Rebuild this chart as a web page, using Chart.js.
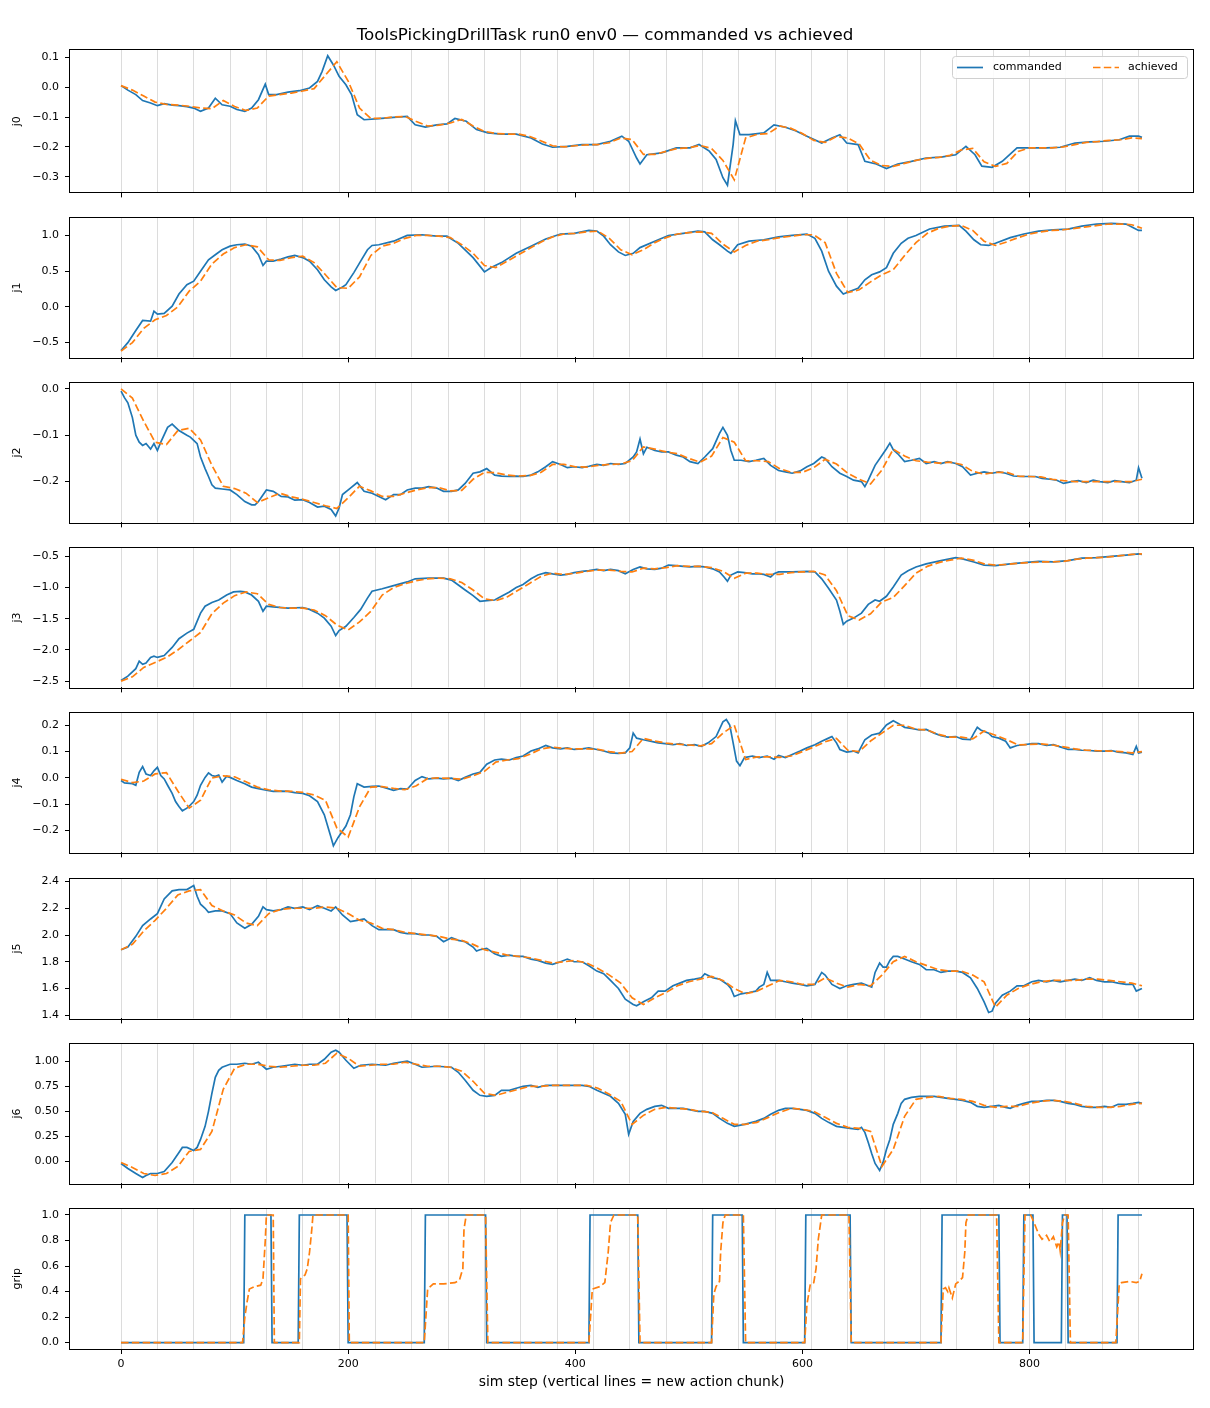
<!DOCTYPE html>
<html>
<head>
<meta charset="utf-8">
<script src="https://cdn.jsdelivr.net/npm/chart.js@4.4.1/dist/chart.umd.min.js"></script>
<style>
html, body { margin: 0; padding: 0; background: #fff; }
#fig { position: relative; width: 1210px; height: 1408px; }
#fig canvas { position: absolute; left: 0; }
</style>
</head>
<body>
<div id="fig"></div>
<script>
// --- DATA ---
const figTitle = 'ToolsPickingDrillTask run0 env0 \u2014 commanded vs achieved';
const xTitle = 'sim step (vertical lines = new action chunk)';
const xTicks = [0, 200, 400, 600, 800];
const xTickLabels = ['0', '200', '400', '600', '800'];
const chunkSteps = [0,32,64,96,128,160,192,224,256,288,320,352,384,416,448,480,512,544,576,608,640,672,704,736,768,800,832,864,896];
const achSteps = [0,10,20,30,40,50,60,70,80,90,100,110,120,130,140,150,160,170,180,190,200,210,220,230,240,250,260,270,280,290,300,310,320,330,340,350,360,370,380,390,400,410,420,430,440,450,460,470,480,490,500,510,520,530,540,550,560,570,580,590,600,610,620,630,640,650,660,670,680,690,700,710,720,730,740,750,760,770,780,790,800,810,820,830,840,850,860,870,880,890,899];

// commanded: [step, value]
const j0Cmd = [[0,0.005],[6,-0.01],[13,-0.025],[19,-0.045],[26,-0.053],[32,-0.062],[38,-0.055],[45,-0.06],[51,-0.062],[58,-0.065],[64,-0.07],[70,-0.081],[77,-0.07],[83,-0.037],[89,-0.059],[96,-0.064],[102,-0.075],[109,-0.081],[115,-0.07],[121,-0.042],[127,0.01],[130,-0.025],[137,-0.025],[147,-0.017],[157,-0.012],[166,-0.003],[173,0.019],[177,0.052],[182,0.105],[187,0.074],[192,0.036],[198,0.008],[203,-0.025],[208,-0.092],[214,-0.109],[227,-0.105],[240,-0.101],[252,-0.098],[259,-0.126],[268,-0.134],[278,-0.126],[287,-0.123],[294,-0.105],[304,-0.114],[313,-0.142],[323,-0.153],[335,-0.157],[348,-0.157],[361,-0.17],[371,-0.19],[380,-0.201],[393,-0.198],[406,-0.192],[419,-0.192],[431,-0.181],[441,-0.164],[447,-0.181],[454,-0.237],[457,-0.257],[463,-0.226],[476,-0.22],[489,-0.203],[501,-0.203],[509,-0.192],[518,-0.214],[524,-0.242],[530,-0.303],[534,-0.328],[539,-0.192],[541,-0.112],[545,-0.159],[553,-0.159],[566,-0.153],[575,-0.126],[585,-0.134],[594,-0.146],[604,-0.164],[617,-0.187],[626,-0.17],[633,-0.159],[639,-0.187],[649,-0.192],[655,-0.248],[665,-0.257],[674,-0.272],[684,-0.257],[696,-0.248],[709,-0.237],[722,-0.234],[735,-0.226],[744,-0.198],[752,-0.226],[758,-0.264],[767,-0.268],[776,-0.248],[789,-0.203],[802,-0.203],[815,-0.203],[827,-0.201],[840,-0.187],[853,-0.183],[866,-0.181],[879,-0.176],[888,-0.164],[896,-0.164],[899,-0.168]];
const j1Cmd = [[0,-0.61],[6,-0.50],[13,-0.33],[19,-0.19],[26,-0.20],[29,-0.06],[32,-0.10],[38,-0.09],[45,0.01],[51,0.18],[58,0.31],[64,0.36],[70,0.50],[77,0.66],[83,0.73],[89,0.80],[96,0.85],[102,0.87],[109,0.88],[115,0.85],[121,0.73],[125,0.58],[128,0.64],[134,0.64],[141,0.67],[147,0.70],[153,0.72],[160,0.69],[166,0.64],[173,0.52],[179,0.38],[185,0.28],[189,0.23],[195,0.28],[198,0.31],[205,0.48],[211,0.64],[217,0.80],[221,0.86],[227,0.87],[240,0.92],[252,1.00],[265,1.01],[278,0.99],[287,0.99],[297,0.89],[310,0.69],[320,0.49],[326,0.55],[335,0.62],[348,0.75],[361,0.85],[374,0.95],[387,1.02],[399,1.03],[412,1.07],[419,1.06],[425,0.99],[431,0.87],[438,0.77],[444,0.72],[451,0.75],[457,0.83],[470,0.92],[482,1.00],[495,1.03],[508,1.06],[514,1.05],[521,0.94],[527,0.87],[534,0.78],[537,0.75],[543,0.87],[553,0.92],[566,0.94],[579,0.98],[591,1.00],[604,1.02],[611,0.96],[617,0.78],[623,0.50],[630,0.29],[636,0.18],[642,0.22],[649,0.26],[655,0.38],[661,0.45],[668,0.49],[674,0.55],[680,0.75],[687,0.89],[693,0.96],[700,1.00],[712,1.09],[725,1.13],[738,1.14],[744,1.06],[751,0.94],[757,0.87],[764,0.86],[770,0.89],[783,0.97],[795,1.02],[808,1.06],[821,1.08],[834,1.09],[846,1.13],[859,1.16],[872,1.17],[885,1.16],[891,1.11],[896,1.07],[899,1.07]];
const j2Cmd = [[0,-0.005],[3,-0.019],[6,-0.03],[10,-0.062],[13,-0.10],[16,-0.115],[19,-0.122],[22,-0.118],[26,-0.13],[29,-0.118],[32,-0.133],[35,-0.115],[41,-0.083],[45,-0.076],[48,-0.083],[51,-0.09],[58,-0.10],[61,-0.104],[64,-0.111],[67,-0.118],[70,-0.147],[74,-0.172],[77,-0.189],[80,-0.207],[83,-0.214],[89,-0.216],[96,-0.218],[102,-0.228],[109,-0.243],[115,-0.25],[118,-0.25],[121,-0.243],[128,-0.218],[134,-0.221],[141,-0.232],[147,-0.233],[153,-0.24],[160,-0.239],[166,-0.245],[173,-0.255],[179,-0.253],[185,-0.26],[189,-0.274],[192,-0.257],[195,-0.228],[202,-0.214],[208,-0.202],[214,-0.221],[221,-0.225],[227,-0.232],[233,-0.239],[240,-0.228],[246,-0.228],[252,-0.218],[259,-0.214],[265,-0.214],[271,-0.211],[278,-0.214],[284,-0.221],[291,-0.221],[297,-0.218],[303,-0.204],[310,-0.182],[316,-0.179],[322,-0.172],[329,-0.186],[335,-0.188],[342,-0.189],[348,-0.188],[354,-0.189],[361,-0.186],[367,-0.179],[374,-0.168],[380,-0.157],[387,-0.163],[393,-0.17],[399,-0.168],[406,-0.17],[412,-0.167],[419,-0.163],[425,-0.165],[431,-0.161],[438,-0.163],[444,-0.161],[451,-0.147],[454,-0.136],[457,-0.108],[460,-0.14],[463,-0.126],[470,-0.133],[476,-0.136],[482,-0.136],[489,-0.143],[495,-0.147],[501,-0.157],[508,-0.161],[514,-0.147],[521,-0.129],[527,-0.096],[530,-0.083],[534,-0.10],[537,-0.133],[540,-0.154],[546,-0.154],[553,-0.157],[559,-0.154],[566,-0.15],[572,-0.165],[579,-0.176],[585,-0.179],[591,-0.182],[598,-0.177],[604,-0.168],[610,-0.161],[617,-0.147],[620,-0.15],[626,-0.168],[633,-0.182],[639,-0.189],[645,-0.197],[652,-0.2],[655,-0.211],[658,-0.197],[664,-0.165],[671,-0.14],[674,-0.129],[677,-0.117],[680,-0.131],[684,-0.14],[690,-0.157],[696,-0.154],[703,-0.15],[709,-0.161],[716,-0.157],[722,-0.161],[728,-0.157],[735,-0.161],[741,-0.168],[748,-0.186],[754,-0.182],[760,-0.179],[767,-0.182],[773,-0.179],[779,-0.182],[786,-0.188],[792,-0.189],[798,-0.189],[805,-0.189],[811,-0.193],[818,-0.195],[824,-0.197],[830,-0.204],[837,-0.2],[843,-0.198],[850,-0.202],[856,-0.197],[862,-0.2],[869,-0.202],[875,-0.198],[881,-0.2],[888,-0.202],[894,-0.197],[896,-0.17],[899,-0.193]];
const j3Cmd = [[0,-2.49],[6,-2.42],[13,-2.30],[16,-2.18],[19,-2.23],[22,-2.21],[26,-2.12],[29,-2.10],[32,-2.12],[38,-2.09],[45,-1.96],[51,-1.82],[58,-1.73],[64,-1.67],[70,-1.41],[74,-1.30],[80,-1.24],[86,-1.20],[93,-1.12],[99,-1.07],[105,-1.06],[109,-1.07],[115,-1.12],[121,-1.22],[125,-1.38],[128,-1.30],[134,-1.31],[147,-1.33],[160,-1.32],[166,-1.35],[173,-1.41],[179,-1.49],[185,-1.62],[189,-1.77],[192,-1.69],[198,-1.62],[205,-1.48],[211,-1.35],[217,-1.17],[221,-1.06],[230,-1.02],[240,-0.97],[252,-0.91],[259,-0.86],[271,-0.85],[284,-0.85],[291,-0.88],[297,-0.96],[303,-1.04],[310,-1.13],[316,-1.22],[322,-1.21],[329,-1.20],[335,-1.14],[342,-1.07],[348,-1.00],[354,-0.95],[361,-0.86],[367,-0.80],[374,-0.76],[380,-0.78],[387,-0.80],[393,-0.79],[399,-0.76],[406,-0.74],[412,-0.73],[419,-0.71],[425,-0.73],[431,-0.71],[438,-0.73],[444,-0.78],[451,-0.71],[457,-0.67],[463,-0.70],[470,-0.71],[476,-0.69],[482,-0.64],[489,-0.65],[495,-0.66],[501,-0.67],[508,-0.66],[514,-0.67],[521,-0.70],[527,-0.75],[531,-0.83],[534,-0.90],[537,-0.80],[543,-0.75],[549,-0.76],[556,-0.78],[562,-0.78],[566,-0.79],[572,-0.83],[575,-0.78],[579,-0.75],[591,-0.75],[604,-0.74],[611,-0.75],[617,-0.86],[623,-1.01],[630,-1.20],[633,-1.38],[636,-1.59],[639,-1.54],[645,-1.49],[652,-1.41],[658,-1.27],[664,-1.20],[668,-1.22],[674,-1.14],[680,-0.99],[687,-0.80],[693,-0.73],[700,-0.67],[709,-0.62],[722,-0.57],[735,-0.52],[741,-0.54],[751,-0.59],[760,-0.64],[770,-0.65],[783,-0.62],[795,-0.60],[808,-0.58],[821,-0.59],[834,-0.57],[846,-0.53],[859,-0.52],[872,-0.50],[885,-0.48],[896,-0.46],[899,-0.47]];
const j4Cmd = [[0,-0.01],[3,-0.019],[10,-0.022],[13,-0.028],[16,0.021],[19,0.043],[22,0.015],[26,0.009],[29,0.027],[32,0.04],[35,0.009],[38,-0.004],[41,-0.028],[45,-0.059],[48,-0.09],[51,-0.109],[54,-0.125],[58,-0.115],[61,-0.103],[64,-0.09],[67,-0.066],[70,-0.028],[74,0.002],[77,0.019],[80,0.009],[83,0.006],[86,0.011],[89,-0.016],[93,0.006],[96,0.002],[102,-0.01],[109,-0.022],[115,-0.035],[121,-0.041],[128,-0.047],[134,-0.051],[141,-0.05],[147,-0.051],[153,-0.056],[160,-0.059],[166,-0.068],[173,-0.09],[179,-0.14],[185,-0.227],[187,-0.258],[191,-0.227],[195,-0.202],[198,-0.183],[202,-0.14],[205,-0.072],[208,-0.022],[214,-0.035],[221,-0.032],[227,-0.031],[233,-0.038],[240,-0.047],[246,-0.041],[252,-0.043],[259,-0.01],[265,0.005],[271,-0.004],[278,-0.001],[284,-0.004],[291,-0.001],[297,-0.01],[303,0.002],[310,0.015],[316,0.021],[322,0.052],[329,0.068],[335,0.071],[342,0.068],[348,0.077],[354,0.083],[361,0.102],[367,0.11],[374,0.123],[380,0.114],[387,0.11],[393,0.114],[399,0.108],[406,0.11],[412,0.114],[419,0.108],[425,0.102],[431,0.095],[438,0.093],[444,0.095],[448,0.114],[451,0.17],[454,0.151],[460,0.145],[467,0.139],[473,0.133],[479,0.13],[486,0.126],[492,0.13],[498,0.123],[505,0.126],[511,0.12],[517,0.133],[524,0.157],[530,0.213],[533,0.222],[536,0.201],[539,0.133],[542,0.064],[545,0.046],[549,0.077],[556,0.083],[562,0.077],[569,0.083],[575,0.071],[579,0.085],[585,0.077],[591,0.089],[598,0.102],[604,0.114],[611,0.126],[617,0.139],[623,0.151],[626,0.157],[630,0.133],[633,0.108],[639,0.098],[645,0.102],[649,0.095],[655,0.145],[661,0.163],[668,0.17],[674,0.201],[680,0.217],[684,0.208],[690,0.192],[696,0.188],[703,0.182],[709,0.184],[716,0.17],[722,0.16],[728,0.155],[735,0.157],[741,0.147],[748,0.145],[751,0.17],[754,0.192],[757,0.182],[764,0.17],[767,0.157],[773,0.151],[779,0.139],[783,0.114],[789,0.123],[795,0.126],[802,0.13],[808,0.13],[815,0.123],[821,0.126],[827,0.118],[834,0.108],[840,0.108],[846,0.105],[853,0.104],[859,0.102],[866,0.102],[872,0.104],[878,0.098],[885,0.095],[891,0.089],[894,0.12],[896,0.095],[899,0.098]];
const j5Cmd = [[0,1.89],[6,1.91],[13,1.99],[19,2.07],[26,2.12],[32,2.16],[38,2.27],[45,2.33],[51,2.34],[58,2.34],[64,2.37],[67,2.29],[70,2.23],[74,2.20],[77,2.17],[83,2.18],[89,2.18],[96,2.16],[102,2.09],[109,2.05],[115,2.08],[121,2.14],[125,2.21],[128,2.19],[134,2.18],[141,2.19],[147,2.21],[153,2.20],[160,2.21],[166,2.19],[173,2.22],[179,2.20],[185,2.18],[189,2.21],[195,2.15],[202,2.10],[208,2.11],[214,2.12],[221,2.07],[227,2.04],[233,2.04],[240,2.04],[246,2.02],[252,2.01],[259,2.01],[265,2.00],[271,2.00],[278,1.99],[284,1.95],[291,1.98],[297,1.96],[303,1.95],[310,1.91],[313,1.88],[316,1.89],[322,1.90],[329,1.86],[335,1.84],[342,1.85],[348,1.84],[354,1.84],[361,1.82],[367,1.81],[374,1.79],[380,1.78],[387,1.80],[393,1.82],[399,1.80],[406,1.80],[412,1.77],[419,1.73],[425,1.71],[431,1.66],[438,1.60],[444,1.52],[451,1.48],[454,1.47],[460,1.50],[467,1.53],[473,1.58],[479,1.58],[486,1.62],[492,1.64],[498,1.66],[505,1.67],[511,1.68],[514,1.71],[521,1.68],[527,1.67],[534,1.63],[537,1.60],[540,1.54],[546,1.56],[553,1.57],[559,1.58],[562,1.61],[566,1.63],[569,1.72],[572,1.66],[579,1.66],[585,1.65],[591,1.64],[598,1.63],[604,1.62],[611,1.63],[617,1.72],[620,1.70],[626,1.63],[633,1.60],[639,1.62],[645,1.63],[652,1.64],[658,1.62],[661,1.61],[664,1.72],[668,1.79],[671,1.76],[674,1.76],[677,1.81],[680,1.84],[684,1.84],[690,1.82],[696,1.80],[703,1.78],[709,1.74],[716,1.74],[722,1.72],[728,1.73],[735,1.73],[741,1.72],[748,1.68],[754,1.60],[760,1.50],[764,1.42],[767,1.43],[770,1.49],[776,1.55],[783,1.58],[789,1.62],[795,1.62],[802,1.65],[808,1.66],[815,1.65],[821,1.66],[827,1.65],[834,1.66],[840,1.67],[846,1.66],[853,1.68],[859,1.66],[866,1.65],[872,1.65],[878,1.64],[885,1.63],[891,1.63],[894,1.58],[899,1.60]];
const j6Cmd = [[0,-0.02],[6,-0.07],[13,-0.12],[19,-0.16],[22,-0.14],[26,-0.12],[32,-0.12],[38,-0.10],[45,-0.01],[51,0.09],[54,0.14],[58,0.14],[64,0.11],[67,0.14],[70,0.22],[74,0.35],[77,0.50],[80,0.68],[83,0.84],[86,0.91],[89,0.94],[96,0.97],[102,0.97],[109,0.98],[115,0.97],[121,0.99],[128,0.92],[134,0.94],[141,0.95],[147,0.96],[153,0.97],[160,0.96],[166,0.97],[173,0.97],[179,1.02],[185,1.09],[189,1.11],[192,1.09],[198,1.01],[205,0.93],[211,0.96],[221,0.97],[233,0.96],[240,0.98],[252,1.00],[259,0.97],[265,0.94],[278,0.95],[291,0.94],[297,0.89],[303,0.81],[310,0.71],[316,0.66],[322,0.65],[329,0.66],[335,0.71],[342,0.71],[348,0.73],[354,0.75],[361,0.76],[367,0.74],[374,0.76],[380,0.76],[393,0.76],[406,0.76],[412,0.75],[419,0.71],[425,0.68],[431,0.65],[438,0.58],[444,0.47],[447,0.27],[451,0.40],[457,0.48],[463,0.52],[470,0.55],[476,0.56],[482,0.53],[495,0.53],[508,0.50],[514,0.50],[521,0.48],[527,0.43],[534,0.38],[540,0.35],[549,0.37],[559,0.40],[566,0.43],[572,0.47],[579,0.51],[585,0.53],[591,0.53],[598,0.52],[604,0.51],[611,0.48],[617,0.43],[623,0.39],[630,0.35],[636,0.34],[642,0.33],[649,0.32],[652,0.34],[655,0.29],[658,0.19],[661,0.08],[664,-0.02],[668,-0.09],[671,-0.01],[674,0.12],[677,0.22],[680,0.37],[684,0.48],[687,0.58],[690,0.62],[696,0.64],[703,0.65],[709,0.65],[716,0.65],[722,0.64],[728,0.63],[735,0.62],[741,0.61],[748,0.59],[754,0.55],[760,0.54],[767,0.55],[773,0.56],[779,0.54],[783,0.53],[789,0.56],[795,0.58],[802,0.60],[808,0.60],[815,0.61],[821,0.61],[827,0.60],[834,0.58],[840,0.57],[846,0.55],[853,0.54],[859,0.54],[866,0.55],[872,0.54],[878,0.57],[885,0.57],[891,0.58],[896,0.59],[899,0.58]];
const gripCmd = [[0,0],[108,0],[109,1],[132,1],[133,0],[156,0],[157,1],[199,1],[200,0],[267,0],[268,1],[321,1],[322,0],[412,0],[413,1],[455,1],[456,0],[520,0],[521,1],[547,1],[548,0],[602,0],[603,1],[642,1],[643,0],[722,0],[723,1],[773,1],[774,0],[794,0],[795,1],[803,1],[804,0],[828,0],[829,1],[833,1],[834,0],[877,0],[878,1],[899,1]];

// achieved, sampled at achSteps
const j0Ach = [0.005,-0.01,-0.03,-0.05,-0.058,-0.06,-0.064,-0.07,-0.072,-0.045,
  -0.065,-0.078,-0.07,-0.03,-0.025,-0.02,-0.013,-0.005,0.04,0.085,
  0.02,-0.07,-0.105,-0.104,-0.1,-0.098,-0.115,-0.13,-0.127,-0.12,
  -0.108,-0.13,-0.148,-0.155,-0.157,-0.157,-0.165,-0.18,-0.196,-0.2,
  -0.196,-0.193,-0.192,-0.186,-0.17,-0.175,-0.225,-0.225,-0.215,-0.205,
  -0.203,-0.195,-0.205,-0.245,-0.31,-0.17,-0.158,-0.155,-0.13,-0.138,
  -0.155,-0.178,-0.185,-0.165,-0.17,-0.19,-0.245,-0.262,-0.265,-0.255,
  -0.245,-0.238,-0.235,-0.228,-0.21,-0.205,-0.25,-0.265,-0.255,-0.215,
  -0.203,-0.203,-0.203,-0.2,-0.192,-0.185,-0.182,-0.178,-0.176,-0.17,
  -0.172];
const j1Ach = [-0.62,-0.5,-0.3,-0.18,-0.12,0.0,0.22,0.36,0.6,0.74,
  0.83,0.87,0.84,0.66,0.65,0.69,0.71,0.62,0.45,0.27,
  0.26,0.42,0.72,0.85,0.89,0.96,1.0,1.0,0.99,0.97,
  0.87,0.75,0.58,0.55,0.64,0.73,0.82,0.91,0.98,1.02,
  1.03,1.05,1.06,0.96,0.8,0.73,0.8,0.9,0.97,1.02,
  1.04,1.05,1.03,0.88,0.77,0.86,0.92,0.94,0.97,0.99,
  1.01,1.01,0.9,0.47,0.2,0.24,0.35,0.45,0.52,0.72,
  0.9,1.03,1.1,1.13,1.14,1.07,0.92,0.86,0.91,0.97,
  1.02,1.05,1.07,1.08,1.1,1.12,1.14,1.16,1.16,1.15,
  1.1];
const j2Ach = [0.0,-0.02,-0.07,-0.115,-0.12,-0.09,-0.085,-0.11,-0.165,-0.21,
  -0.215,-0.225,-0.245,-0.235,-0.225,-0.233,-0.238,-0.245,-0.252,-0.258,
  -0.235,-0.21,-0.22,-0.232,-0.232,-0.225,-0.218,-0.213,-0.213,-0.22,
  -0.219,-0.195,-0.18,-0.181,-0.186,-0.188,-0.187,-0.18,-0.163,-0.163,
  -0.168,-0.169,-0.165,-0.163,-0.162,-0.155,-0.125,-0.13,-0.136,-0.14,
  -0.15,-0.158,-0.145,-0.105,-0.115,-0.155,-0.155,-0.157,-0.172,-0.18,
  -0.18,-0.17,-0.152,-0.162,-0.182,-0.195,-0.205,-0.175,-0.13,-0.145,
  -0.155,-0.158,-0.16,-0.158,-0.163,-0.178,-0.184,-0.18,-0.18,-0.188,
  -0.189,-0.19,-0.195,-0.198,-0.2,-0.2,-0.2,-0.2,-0.2,-0.2,
  -0.195];
const j3Ach = [-2.5,-2.43,-2.28,-2.2,-2.12,-2.0,-1.86,-1.72,-1.42,-1.25,
  -1.13,-1.07,-1.1,-1.27,-1.32,-1.33,-1.33,-1.36,-1.45,-1.6,
  -1.68,-1.55,-1.38,-1.12,-1.0,-0.94,-0.89,-0.86,-0.85,-0.86,
  -0.92,-1.04,-1.18,-1.21,-1.15,-1.04,-0.93,-0.82,-0.77,-0.79,
  -0.77,-0.74,-0.72,-0.72,-0.74,-0.75,-0.69,-0.7,-0.68,-0.65,
  -0.66,-0.66,-0.68,-0.74,-0.85,-0.77,-0.77,-0.79,-0.79,-0.76,
  -0.75,-0.74,-0.8,-1.05,-1.45,-1.52,-1.42,-1.23,-1.16,-0.97,
  -0.77,-0.66,-0.6,-0.56,-0.53,-0.56,-0.62,-0.64,-0.63,-0.61,
  -0.6,-0.59,-0.59,-0.58,-0.55,-0.53,-0.52,-0.51,-0.49,-0.47,
  -0.46];
const j4Ach = [-0.005,-0.018,-0.012,0.015,0.02,-0.05,-0.115,-0.085,0.0,0.008,
  0.004,-0.015,-0.035,-0.045,-0.05,-0.051,-0.055,-0.065,-0.085,-0.19,
  -0.225,-0.11,-0.035,-0.033,-0.04,-0.045,-0.03,-0.002,0.0,-0.002,
  -0.005,0.008,0.025,0.06,0.068,0.073,0.09,0.11,0.117,0.112,
  0.11,0.11,0.108,0.1,0.094,0.1,0.15,0.14,0.132,0.128,
  0.125,0.122,0.13,0.17,0.2,0.07,0.08,0.08,0.078,0.083,
  0.1,0.117,0.137,0.15,0.105,0.1,0.14,0.17,0.2,0.2,
  0.185,0.182,0.165,0.155,0.155,0.148,0.178,0.162,0.145,0.125,
  0.127,0.129,0.125,0.118,0.11,0.105,0.103,0.102,0.1,0.095,
  0.1];
const j5Ach = [1.89,1.93,2.03,2.11,2.2,2.3,2.33,2.34,2.22,2.18,
  2.15,2.09,2.07,2.16,2.19,2.2,2.2,2.2,2.21,2.2,
  2.16,2.11,2.09,2.05,2.04,2.02,2.01,2.0,1.99,1.97,
  1.96,1.93,1.89,1.87,1.85,1.84,1.83,1.81,1.79,1.8,
  1.81,1.79,1.75,1.7,1.64,1.53,1.48,1.53,1.57,1.62,
  1.65,1.67,1.69,1.66,1.6,1.56,1.58,1.62,1.66,1.65,
  1.63,1.63,1.68,1.64,1.61,1.63,1.62,1.7,1.8,1.84,
  1.8,1.77,1.74,1.73,1.73,1.7,1.65,1.46,1.55,1.6,
  1.63,1.65,1.66,1.66,1.66,1.67,1.67,1.66,1.65,1.64,
  1.62];
const j6Ach = [-0.01,-0.06,-0.12,-0.14,-0.12,-0.05,0.1,0.12,0.3,0.72,
  0.93,0.97,0.97,0.95,0.94,0.95,0.96,0.96,0.98,1.08,
  1.03,0.95,0.96,0.97,0.97,0.99,0.97,0.95,0.95,0.94,
  0.9,0.8,0.68,0.66,0.69,0.72,0.75,0.75,0.76,0.76,
  0.76,0.76,0.73,0.67,0.6,0.37,0.46,0.52,0.54,0.53,
  0.52,0.5,0.49,0.43,0.37,0.37,0.39,0.44,0.49,0.53,
  0.52,0.5,0.44,0.38,0.34,0.33,0.3,-0.05,0.12,0.45,
  0.62,0.64,0.65,0.63,0.62,0.6,0.56,0.54,0.55,0.55,
  0.58,0.6,0.61,0.6,0.58,0.55,0.54,0.54,0.55,0.57,
  0.58];
const gripAch = [[0,0],[107,0],[109,0.2],[111,0.32],[113,0.42],[118,0.44],[123,0.45],[125,0.5],[127,0.8],[128,1.0],[134,1.0],[135,0],[157,0],[158,0.5],[162,0.53],[164,0.58],[166,0.71],[168,0.89],[169,1.0],[200,1.0],[201,0],[267,0],[270,0.42],[275,0.46],[284,0.46],[294,0.47],[298,0.49],[301,0.58],[302,0.89],[304,1.0],[321,1.0],[323,0],[412,0],[415,0.42],[422,0.44],[426,0.47],[429,0.71],[431,0.94],[434,1.0],[455,1.0],[457,0],[520,0],[522,0.38],[524,0.44],[527,0.48],[528,0.71],[530,0.94],[532,1.0],[548,1.0],[550,0],[602,0],[604,0.30],[607,0.46],[610,0.47],[612,0.58],[614,0.81],[617,1.0],[641,1.0],[643,0],[722,0],[724,0.42],[726,0.43],[728,0.40],[729,0.43],[732,0.35],[735,0.46],[738,0.48],[741,0.51],[743,0.71],[744,0.94],[746,1.0],[771,1.0],[773,0],[794,0],[796,1.0],[801,1.0],[804,0.94],[808,0.85],[811,0.81],[815,0.84],[818,0.79],[821,0.83],[824,0.75],[826,0.79],[827,0.72],[829,0.94],[831,1.0],[834,1.0],[836,0],[876,0],[879,0.46],[881,0.47],[888,0.48],[894,0.47],[897,0.48],[899,0.54]];

// y tick values and their printed labels
const M = '\u2212';
const j0Ticks = [-0.3, -0.2, -0.1, 0, 0.1];      const j0Labels = [M+'0.3', M+'0.2', M+'0.1', '0.0', '0.1'];
const j1Ticks = [-0.5, 0, 0.5, 1.0];             const j1Labels = [M+'0.5', '0.0', '0.5', '1.0'];
const j2Ticks = [-0.2, -0.1, 0];                 const j2Labels = [M+'0.2', M+'0.1', '0.0'];
const j3Ticks = [-2.5, -2.0, -1.5, -1.0, -0.5];  const j3Labels = [M+'2.5', M+'2.0', M+'1.5', M+'1.0', M+'0.5'];
const j4Ticks = [-0.2, -0.1, 0, 0.1, 0.2];       const j4Labels = [M+'0.2', M+'0.1', '0.0', '0.1', '0.2'];
const j5Ticks = [1.4, 1.6, 1.8, 2.0, 2.2, 2.4];  const j5Labels = ['1.4', '1.6', '1.8', '2.0', '2.2', '2.4'];
const j6Ticks = [0, 0.25, 0.5, 0.75, 1.0];       const j6Labels = ['0.00', '0.25', '0.50', '0.75', '1.00'];
const gripTicks = [0, 0.2, 0.4, 0.6, 0.8, 1.0];  const gripLabels = ['0.0', '0.2', '0.4', '0.6', '0.8', '1.0'];

// --- CHART SETUP ---
const FONT = "'DejaVu Sans', sans-serif";
const X_MIN = -44.95, X_MAX = 943.95;
Chart.defaults.font.family = FONT;
Chart.defaults.color = '#000';

const zip = (steps, vals) => steps.map((s, i) => ({ x: s, y: vals[i] }));
const pairs = arr => arr.map(p => ({ x: p[0], y: p[1] }));

const panels = [
    { name: 'j0', cmd: pairs(j0Cmd), ach: zip(achSteps, j0Ach), min: -0.352, max: 0.124, ticks: j0Ticks, labels: j0Labels },
    { name: 'j1', cmd: pairs(j1Cmd), ach: zip(achSteps, j1Ach), min: -0.707, max: 1.25, ticks: j1Ticks, labels: j1Labels },
    { name: 'j2', cmd: pairs(j2Cmd), ach: zip(achSteps, j2Ach), min: -0.288, max: 0.0135, ticks: j2Ticks, labels: j2Labels },
    { name: 'j3', cmd: pairs(j3Cmd), ach: zip(achSteps, j3Ach), min: -2.60, max: -0.36, ticks: j3Ticks, labels: j3Labels },
    { name: 'j4', cmd: pairs(j4Cmd), ach: zip(achSteps, j4Ach), min: -0.283, max: 0.248, ticks: j4Ticks, labels: j4Labels },
    { name: 'j5', cmd: pairs(j5Cmd), ach: zip(achSteps, j5Ach), min: 1.376, max: 2.422, ticks: j5Ticks, labels: j5Labels },
    { name: 'j6', cmd: pairs(j6Cmd), ach: zip(achSteps, j6Ach), min: -0.219, max: 1.176, ticks: j6Ticks, labels: j6Labels },
    { name: 'grip', cmd: pairs(gripCmd), ach: pairs(gripAch), min: -0.05, max: 1.05, ticks: gripTicks, labels: gripLabels }
];

// full box round each axes, like matplotlib spines
const spines = {
    id: 'spines',
    afterDraw(chart) {
        const a = chart.chartArea, ctx = chart.ctx;
        ctx.save();
        ctx.strokeStyle = '#000';
        ctx.lineWidth = 1;
        ctx.strokeRect(Math.round(a.left) - 0.5, Math.round(a.top) - 0.5,
                       Math.round(a.right - a.left) + 1, Math.round(a.bottom - a.top) + 1);
        ctx.restore();
    }
};

// matplotlib-style legend box in the top right of the first axes
const legendBox = {
    id: 'legendBox',
    afterDraw(chart) {
        const a = chart.chartArea, ctx = chart.ctx;
        const w = 235, h = 22;
        const x0 = Math.round(a.right) - 6 - w, y0 = Math.round(a.top) + 6;
        ctx.save();
        ctx.beginPath();
        ctx.roundRect(x0 + 0.5, y0 + 0.5, w, h, 3);
        ctx.fillStyle = 'rgba(255,255,255,0.9)';
        ctx.fill();
        ctx.strokeStyle = '#d0d0d0';
        ctx.lineWidth = 1;
        ctx.stroke();
        const ym = y0 + h / 2 + 0.5;
        const items = [{ ds: chart.data.datasets[0], lx: 5, tx: 41 },
                       { ds: chart.data.datasets[1], lx: 141, tx: 176 }];
        ctx.font = '11px ' + FONT;
        ctx.textBaseline = 'middle';
        items.forEach(it => {
            ctx.beginPath();
            ctx.setLineDash(it.ds.borderDash || []);
            ctx.strokeStyle = it.ds.borderColor;
            ctx.lineWidth = it.ds.borderWidth;
            ctx.moveTo(x0 + it.lx, ym);
            ctx.lineTo(x0 + it.lx + 26, ym);
            ctx.stroke();
            ctx.setLineDash([]);
            ctx.fillStyle = '#000';
            ctx.fillText(it.ds.label, x0 + it.tx, ym);
        });
        ctx.restore();
    }
};

const fig = document.getElementById('fig');
const AX_H = 143;

panels.forEach((p, i) => {
    const first = i === 0, last = i === panels.length - 1;
    const axTop = Math.round(50 + 165.1 * i);
    const cTop = first ? 0 : axTop - 10;
    const xH = last ? 50 : 12;
    const cH = last ? 1408 - cTop : axTop + AX_H + xH - cTop;
    const padTop = first ? 0 : 10;
    const padBottom = cH - (axTop - cTop) - AX_H - xH;

    const cv = document.createElement('canvas');
    cv.width = 1210;
    cv.height = cH;
    cv.style.top = cTop + 'px';
    fig.appendChild(cv);

    new Chart(cv, {
        type: 'line',
        data: {
            datasets: [
                { label: 'commanded', data: p.cmd, borderColor: '#1f77b4', borderWidth: 1.7,
                  pointRadius: 0, tension: 0, order: 2, xAxisID: 'x', yAxisID: 'y' },
                { label: 'achieved', data: p.ach, borderColor: '#ff7f0e', borderWidth: 1.7,
                  borderDash: [7.5, 3.3], pointRadius: 0, tension: 0, order: 1, xAxisID: 'x', yAxisID: 'y' }
            ]
        },
        options: {
            responsive: false,
            animation: false,
            devicePixelRatio: 1,
            layout: { padding: { left: 0, right: 0, top: padTop, bottom: padBottom } },
            plugins: {
                legend: { display: false },
                tooltip: { enabled: false },
                title: {
                    display: first, text: figTitle, color: '#000',
                    font: { family: FONT, size: 16.7, weight: 'normal' },
                    padding: { top: 26, bottom: 4 }
                }
            },
            scales: {
                x: {
                    type: 'linear', position: 'bottom', min: X_MIN, max: X_MAX,
                    afterBuildTicks: s => { s.ticks = xTicks.map(v => ({ value: v })); },
                    afterFit: s => { s.height = xH; },
                    ticks: { display: last, autoSkip: false, maxRotation: 0, padding: 4,
                             font: { family: FONT, size: 11 }, color: '#000',
                             callback: (v, idx) => xTickLabels[idx] },
                    grid: { drawOnChartArea: false, drawTicks: true, tickLength: 5, color: '#000', tickColor: '#000' },
                    border: { display: false },
                    title: { display: last, text: xTitle, color: '#000',
                             font: { family: FONT, size: 13.9 }, padding: { top: 0, bottom: 8 } }
                },
                xc: {
                    type: 'linear', position: 'top', min: X_MIN, max: X_MAX,
                    afterBuildTicks: s => { s.ticks = chunkSteps.map(v => ({ value: v })); },
                    afterFit: s => { s.height = 0; },
                    ticks: { display: false },
                    grid: { color: 'rgba(128,128,128,0.28)', lineWidth: 1, drawTicks: false },
                    border: { display: false }
                },
                y: {
                    type: 'linear', position: 'left', min: p.min, max: p.max,
                    afterBuildTicks: s => { s.ticks = p.ticks.map(v => ({ value: v })); },
                    afterFit: s => { s.width = 70; },
                    ticks: { autoSkip: false, padding: 6, font: { family: FONT, size: 11 }, color: '#000',
                             callback: (v, idx) => p.labels[idx] },
                    grid: { drawOnChartArea: false, drawTicks: true, tickLength: 5, color: '#000', tickColor: '#000' },
                    border: { display: false },
                    title: { display: true, text: p.name, color: '#000',
                             font: { family: FONT, size: 11 }, padding: { top: 11, bottom: 0 } }
                },
                // empty right margin so the figure title centres on the full width
                yr: {
                    type: 'linear', position: 'right', min: 0, max: 1,
                    afterFit: s => { s.width = 17; },
                    ticks: { display: false },
                    grid: { display: false },
                    border: { display: false }
                }
            }
        },
        plugins: first ? [spines, legendBox] : [spines]
    });
});
</script>
</body>
</html>
